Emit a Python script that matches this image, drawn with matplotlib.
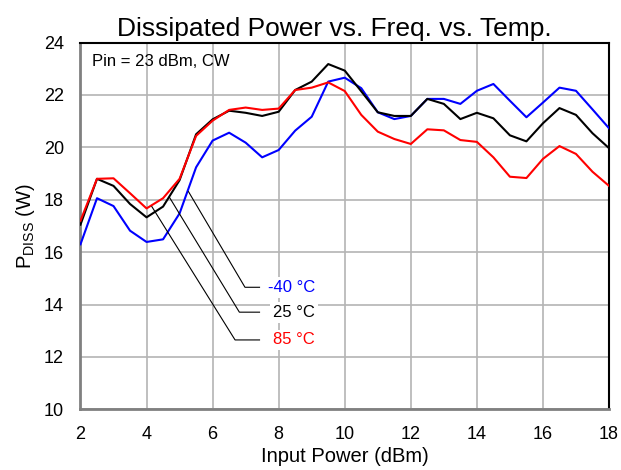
import matplotlib
matplotlib.use("Agg")
import matplotlib.pyplot as plt
import numpy as np

plt.rcParams['font.family'] = ['Liberation Sans', 'DejaVu Sans']
plt.rcParams['mathtext.fontset'] = 'custom'
plt.rcParams['mathtext.rm'] = 'Liberation Sans'

pin = [2, 2.5, 3, 3.5, 4, 4.5, 5, 5.5, 6, 6.5, 7, 7.5, 8, 8.5, 9, 9.5, 10,
       10.5, 11, 11.5, 12, 12.5, 13, 13.5, 14, 14.5, 15, 15.5, 16, 16.5, 17, 17.5, 18]

p_m40 = [16.3, 18.06, 17.76, 16.82, 16.39, 16.49, 17.48, 19.24, 20.26, 20.56, 20.18, 19.62, 19.9,
         20.64, 21.17, 22.51, 22.66, 22.26, 21.34, 21.08, 21.2, 21.85, 21.85, 21.66, 22.16,
         22.42, 21.78, 21.15, 21.71, 22.28, 22.16, 21.45, 20.73]
p_25 = [17.05, 18.8, 18.53, 17.84, 17.33, 17.74, 18.75, 20.5, 21.07, 21.4, 21.32, 21.2, 21.36,
        22.19, 22.51, 23.18, 22.93, 22.14, 21.34, 21.2, 21.2, 21.85, 21.66, 21.08, 21.32,
        21.11, 20.46, 20.23, 20.92, 21.5, 21.24, 20.54, 19.97]
p_85 = [17.2, 18.8, 18.82, 18.25, 17.67, 18.06, 18.8, 20.44, 21.02, 21.43, 21.52, 21.43, 21.48,
        22.19, 22.28, 22.48, 22.15, 21.24, 20.6, 20.32, 20.13, 20.69, 20.65, 20.28, 20.21,
        19.62, 18.88, 18.83, 19.56, 20.05, 19.75, 19.07, 18.53]

labels = ['-40 °C', '25 °C', '85 °C']
colors = ['#0000ff', '#000000', '#ff0000']
xticks = [2, 4, 6, 8, 10, 12, 14, 16, 18]
yticks = [10, 12, 14, 16, 18, 20, 22, 24]

fig = plt.figure(figsize=(6.21, 4.70), dpi=100)
ax = fig.add_axes([0.1296, 0.129, 0.8511, 0.7804])

for series, c in zip([p_m40, p_25, p_85], colors):
    ax.plot(pin, series, color=c, lw=1.5, zorder=3)

ax.set_xlim(2, 18)
ax.set_ylim(10, 24)
ax.set_xticks(xticks)
ax.set_yticks(yticks)
ax.tick_params(length=0, labelsize=13, pad=12)
ax.grid(True, color='#b4b4b4', lw=1.2)
ax.set_axisbelow(True)
for s in ['left', 'bottom']:
    ax.spines[s].set_color('#808080')
    ax.spines[s].set_linewidth(2)
for s in ['top', 'right']:
    ax.spines[s].set_color('black')
    ax.spines[s].set_linewidth(1.5)

ax.set_title('Dissipated Power vs. Freq. vs. Temp.', fontsize=19, pad=5, x=0.48)
ax.set_xlabel('Input Power (dBm)', fontsize=14.5, labelpad=3)
ax.set_ylabel(r'P$_{\mathregular{DISS}}$ (W)', fontsize=14.5, labelpad=5)

ax.text(2.35, 23.26, 'Pin = 23 dBm, CW', fontsize=12, va='center', ha='left')

# leader lines: anchor on curve, elbow, horizontal end
anchors = [(5.27, 18.31), (4.69, 18.1), (4.16, 17.74)]
elbows = [(6.98, 14.66), (6.81, 13.71), (6.68, 12.65)]
hend = 7.42
for (ax0, ay0), (ex, ey), lab, c in zip(anchors, elbows, labels, colors):
    ax.plot([ax0, ex, hend], [ay0, ey, ey], color='black', lw=0.8, zorder=4)
    ax.text(9.1, ey, lab, color=c, fontsize=12, ha='right', va='center', zorder=5,
            bbox=dict(facecolor='white', edgecolor='none', pad=2))

fig.savefig('out.png', dpi=100)
